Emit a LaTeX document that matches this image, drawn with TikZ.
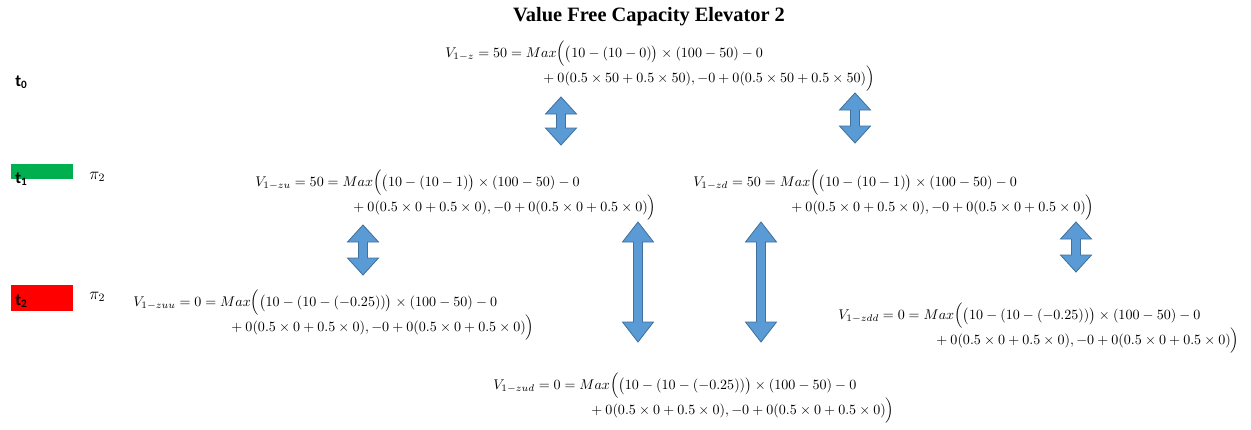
\documentclass[tikz,border=0pt]{standalone}
\usepackage{amsmath}
\usepackage{fontspec}
\newfontfamily\titlefont{Liberation Serif}
\newfontfamily\tfont{Carlito}
\usepackage{xcolor}
\definecolor{arrfill}{HTML}{5B9BD5}
\definecolor{arrline}{HTML}{41719C}
\definecolor{tgreen}{HTML}{00B050}
\definecolor{tred}{HTML}{FF0000}
\usepackage{tikz}

\begin{document}
\begin{tikzpicture}[
  x=0.025cm, y=-0.025cm,
  eq/.style={anchor=base west, align=left, inner sep=0pt,
    font=\fontsize{10.3}{12.4}\selectfont},
  tlabel/.style={anchor=base west, inner sep=0pt, font=\tfont\bfseries\large},
  tbox/.style={anchor=north west, fill=#1, draw=none, inner sep=0pt,
    minimum width=1.55cm},
  pilabel/.style={anchor=base west, inner sep=0pt, font=\large},
  blockarr/.style={fill=arrfill, draw=arrline, line width=0.6pt, line join=miter}
]
\useasboundingbox (0,0) rectangle (1251,429);

\node[font=\titlefont\bfseries\fontsize{14.5}{16}\selectfont] (title) at (649,17)
  {Value Free Capacity Elevator 2};

% time steps
\node[tbox=tgreen, minimum height=0.375cm] (b1) at (11,164) {};
\node[tbox=tred, minimum height=0.65cm] (b2) at (11,285) {};
\node[tlabel] (t0) at (15,86) {t\textsubscript{0}};
\node[tlabel] (t1) at (15,183) {t\textsubscript{1}};
\node[tlabel] (t2) at (15,305) {t\textsubscript{2}};
\node[pilabel] (pi1) at (89,179) {$\pi_2$};
\node[pilabel] (pi2) at (89,299) {$\pi_2$};

% values (anchored on the second line)
\node[eq] (vz) at (445,82)
  {$V_{1-z}=50=Max\Big(\big(10-(10-0)\big)\times(100-50)-0$\\[-1.5pt]
   \hspace*{2.375cm}${}+0(0.5\times50+0.5\times50),-0+0(0.5\times50+0.5\times50)\Big)$};
\node[eq] (vzu) at (255,211)
  {$V_{1-zu}=50=Max\Big(\big(10-(10-1)\big)\times(100-50)-0$\\[-1.5pt]
   \hspace*{2.375cm}${}+0(0.5\times0+0.5\times0),-0+0(0.5\times0+0.5\times0)\Big)$};
\node[eq] (vzd) at (693,211)
  {$V_{1-zd}=50=Max\Big(\big(10-(10-1)\big)\times(100-50)-0$\\[-1.5pt]
   \hspace*{2.375cm}${}+0(0.5\times0+0.5\times0),-0+0(0.5\times0+0.5\times0)\Big)$};
\node[eq] (vzuu) at (133,331)
  {$V_{1-zuu}=0=Max\Big(\big(10-(10-(-0.25))\big)\times(100-50)-0$\\[-1.5pt]
   \hspace*{2.375cm}${}+0(0.5\times0+0.5\times0),-0+0(0.5\times0+0.5\times0)\Big)$};
\node[eq] (vzdd) at (838,344)
  {$V_{1-zdd}=0=Max\Big(\big(10-(10-(-0.25))\big)\times(100-50)-0$\\[-1.5pt]
   \hspace*{2.375cm}${}+0(0.5\times0+0.5\times0),-0+0(0.5\times0+0.5\times0)\Big)$};
\node[eq] (vzud) at (493,414)
  {$V_{1-zud}=0=Max\Big(\big(10-(10-(-0.25))\big)\times(100-50)-0$\\[-1.5pt]
   \hspace*{2.375cm}${}+0(0.5\times0+0.5\times0),-0+0(0.5\times0+0.5\times0)\Big)$};

% up/down block arrows
\foreach \x/\ya/\yb/\h in {561/97/145/17, 855/93/143/17, 363/225/275/17,
    638/222/342/20, 761/222/342/20, 1076/222/272/17} {
  \draw[blockarr] (\x,\ya) -- (\x+15.5,\ya+\h) -- (\x+4.5,\ya+\h)
    -- (\x+4.5,\yb-\h) -- (\x+15.5,\yb-\h) -- (\x,\yb) -- (\x-15.5,\yb-\h)
    -- (\x-4.5,\yb-\h) -- (\x-4.5,\ya+\h) -- (\x-15.5,\ya+\h) -- cycle;
}
\end{tikzpicture}
\end{document}
